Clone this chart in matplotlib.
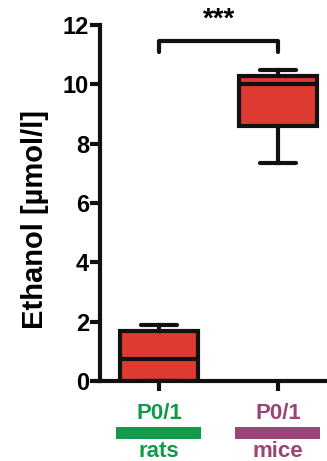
import matplotlib
matplotlib.use("Agg")
import matplotlib.pyplot as plt
from matplotlib.patches import Rectangle

plt.rcParams['font.family'] = ['Liberation Sans', 'DejaVu Sans']
plt.rcParams['font.weight'] = 'bold'

# values
groups = ['rats', 'mice']
ages = ['P0/1', 'P0/1']
group_colors = ['#109a4a', '#9a4477']
whislo = [0.0, 7.35]
q1 = [0.0, 8.6]
med = [0.75, 10.0]
q3 = [1.68, 10.3]
whishi = [1.88, 10.48]
sig_label = '***'
positions = [1, 2]

stats = []
for i in range(len(groups)):
    stats.append({'whislo': whislo[i], 'q1': q1[i], 'med': med[i],
                  'q3': q3[i], 'whishi': whishi[i], 'fliers': []})

fig = plt.figure(figsize=(3.27, 4.61), dpi=100)
ax = fig.add_axes([0.3058, 0.1735, 0.6942, 0.772])

lw = 3.0
ax.bxp(stats, positions=positions, widths=0.65, capwidths=0.3,
       showfliers=False, patch_artist=True,
       boxprops=dict(facecolor='#dd3a32', edgecolor='#111111', linewidth=lw),
       medianprops=dict(color='#111111', linewidth=lw),
       whiskerprops=dict(color='#111111', linewidth=lw),
       capprops=dict(color='#111111', linewidth=lw, solid_capstyle='round'))

ax.set_xlim(0.504, 2.41)
ax.set_ylim(0, 12)
ax.set_yticks([0, 2, 4, 6, 8, 10, 12])
ax.set_xticks(positions)
ax.set_xticklabels([])
ax.tick_params(axis='both', length=7, width=lw, color='#111111',
               labelsize=17, pad=1)
for lab in ax.get_yticklabels():
    lab.set_fontweight('bold')
ax.spines['top'].set_visible(False)
ax.spines['right'].set_visible(False)
ax.spines['left'].set_linewidth(lw)
ax.spines['bottom'].set_linewidth(lw)
ax.spines['left'].set_color('#111111')
ax.spines['bottom'].set_color('#111111')

ax.set_ylabel('Ethanol [µmol/l]', fontsize=21, fontweight='bold')
ax.yaxis.set_label_coords(-0.225, 0.455)

# group labels under the axis
for i in range(len(groups)):
    x = positions[i]
    ax.text(x, -1.08, ages[i], color=group_colors[i], fontsize=16,
            fontweight='bold', ha='center', va='center', clip_on=False)
    ax.add_patch(Rectangle((x - 0.36, -1.95), 0.71, 0.4,
                           facecolor=group_colors[i], edgecolor='none',
                           clip_on=False))
    ax.text(x, -2.38, groups[i], color=group_colors[i], fontsize=16,
            fontweight='bold', ha='center', va='center', clip_on=False)

# significance bracket
ax.plot([positions[0], positions[0], positions[1], positions[1]],
        [11.1, 11.45, 11.45, 11.1], color='#111111', linewidth=lw,
        solid_capstyle='round', solid_joinstyle='round', clip_on=False)
ax.text(sum(positions) / 2, 12.2, sig_label, fontsize=20, fontweight='bold',
        ha='center', va='center', clip_on=False)

fig.savefig('out.png', dpi=100)
